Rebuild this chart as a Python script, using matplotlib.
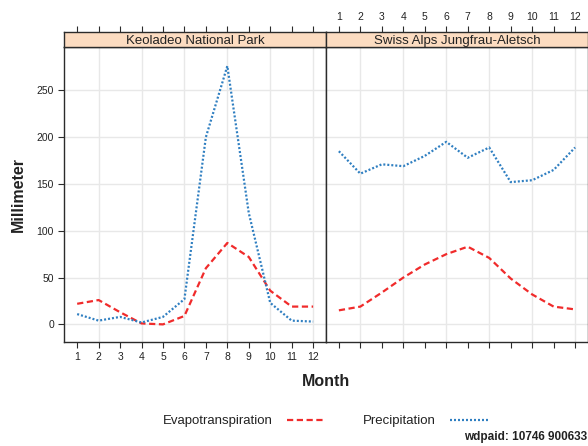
import numpy as np
import matplotlib
matplotlib.use('Agg')
import matplotlib.pyplot as plt
from matplotlib.lines import Line2D

plt.rcParams['font.family'] = ['Liberation Sans', 'DejaVu Sans']

#------------------------------------------------------------------------------
# data (mm per month)
months = [1, 2, 3, 4, 5, 6, 7, 8, 9, 10, 11, 12]
sites = ['Keoladeo National Park', 'Swiss Alps Jungfrau-Aletsch']

keoladeo_evapo = [22, 26, 13, 1, 0, 9, 60, 87, 72, 36, 19, 19]
keoladeo_precip = [11, 4, 8, 2, 8, 27, 200, 276, 119, 23, 4, 3]

aletsch_evapo = [15, 19, 34, 50, 64, 75, 83, 71, 49, 32, 19, 16]
aletsch_precip = [185, 161, 171, 169, 180, 195, 178, 189, 152, 154, 165, 189]

y_ticks = [0, 50, 100, 150, 200, 250]

evapo_color = '#f02b2b'
precip_color = '#2f7fc1'
strip_color = '#fcdcc1'
frame_color = '#2b2b2b'
grid_color = '#e8e8e8'

W, H = 588, 446


#------------------------------------------------------------------------------
def px_axes(fig, x0, y0, x1, y1):
    """Add axes given pixel box (top-left origin)."""
    return fig.add_axes([x0 / W, (H - y1) / H, (x1 - x0) / W, (y1 - y0) / H])


def draw_panel(ax, evapo, precip):
    ax.plot(months, evapo, color=evapo_color, lw=1.6, linestyle=(0, (2.8, 1.6)))
    ax.plot(months, precip, color=precip_color, lw=1.6, linestyle=(0, (0.9, 0.9)))
    ax.set_xlim(0.4, 12.6)
    ax.set_ylim(-18.5, 296)
    ax.set_xticks(months)
    ax.set_yticks(y_ticks)
    ax.set_xticks([2, 4, 6, 8, 10, 12], minor=True)
    ax.grid(False)
    for v in [2, 4, 6, 8, 10, 12]:
        ax.axvline(v, color=grid_color, lw=1.0, zorder=0)
    for v in y_ticks:
        ax.axhline(v, color=grid_color, lw=1.0, zorder=0)
    for s in ax.spines.values():
        s.set_color(frame_color)
        s.set_linewidth(1.0)
    ax.tick_params(axis='both', direction='out', length=4.5, width=0.8,
                   color=frame_color, labelsize=7.5, labelcolor='#222222', pad=3)
    ax.tick_params(which='minor', length=0)


def draw_strip(ax, title, show_labels):
    ax.set_facecolor(strip_color)
    ax.set_xlim(0.4, 12.6)
    ax.set_ylim(0, 1)
    ax.set_yticks([])
    ax.xaxis.set_ticks_position('top')
    ax.set_xticks(months)
    ax.tick_params(axis='x', direction='out', length=4.5, width=0.8,
                   color=frame_color, labelsize=7.5, labelcolor='#222222', pad=3,
                   labeltop=show_labels)
    for s in ax.spines.values():
        s.set_color(frame_color)
        s.set_linewidth(1.0)
    ax.text(0.5, 0.45, title, transform=ax.transAxes, ha='center', va='center',
            fontsize=9.5, color='#222222')


#------------------------------------------------------------------------------
fig = plt.figure(figsize=(W / 100, H / 100), dpi=100)

ax_left = px_axes(fig, 64.3, 47.3, 326, 341.7)
ax_right = px_axes(fig, 326, 47.3, 588, 341.7)
strip_left = px_axes(fig, 64.3, 32.3, 326, 47.3)
strip_right = px_axes(fig, 326, 32.3, 588, 47.3)

draw_panel(ax_left, keoladeo_evapo, keoladeo_precip)
draw_panel(ax_right, aletsch_evapo, aletsch_precip)
ax_right.tick_params(axis='x', labelbottom=False)
ax_right.tick_params(axis='y', left=False, labelleft=False)

draw_strip(strip_left, sites[0], False)
draw_strip(strip_right, sites[1], True)

fig.text(326 / W, (H - 381) / H, 'Month', ha='center', va='center',
         fontsize=11.5, fontweight='bold', color='#222222')
fig.text(18 / W, (H - 194) / H, 'Millimeter', ha='center', va='center',
         rotation=90, fontsize=11.5, fontweight='bold', color='#222222')

handles = [Line2D([], [], color=evapo_color, lw=1.6, linestyle=(0, (2.8, 1.6))),
           Line2D([], [], color=precip_color, lw=1.6, linestyle=(0, (0.9, 0.9)))]
fig.legend(handles, ['Evapotranspiration', 'Precipitation'], ncol=2,
           markerfirst=False, frameon=False, fontsize=9.5,
           loc='center', bbox_to_anchor=(326 / W, (H - 421) / H),
           handlelength=2.95, handletextpad=1.1, columnspacing=2.8,
           labelcolor='#222222')

fig.text(587 / W, (H - 437) / H, 'wdpaid: 10746 900633', ha='right', va='center',
         fontsize=8.5, fontweight='bold', color='#222222')

fig.savefig('out.png', dpi=100)
